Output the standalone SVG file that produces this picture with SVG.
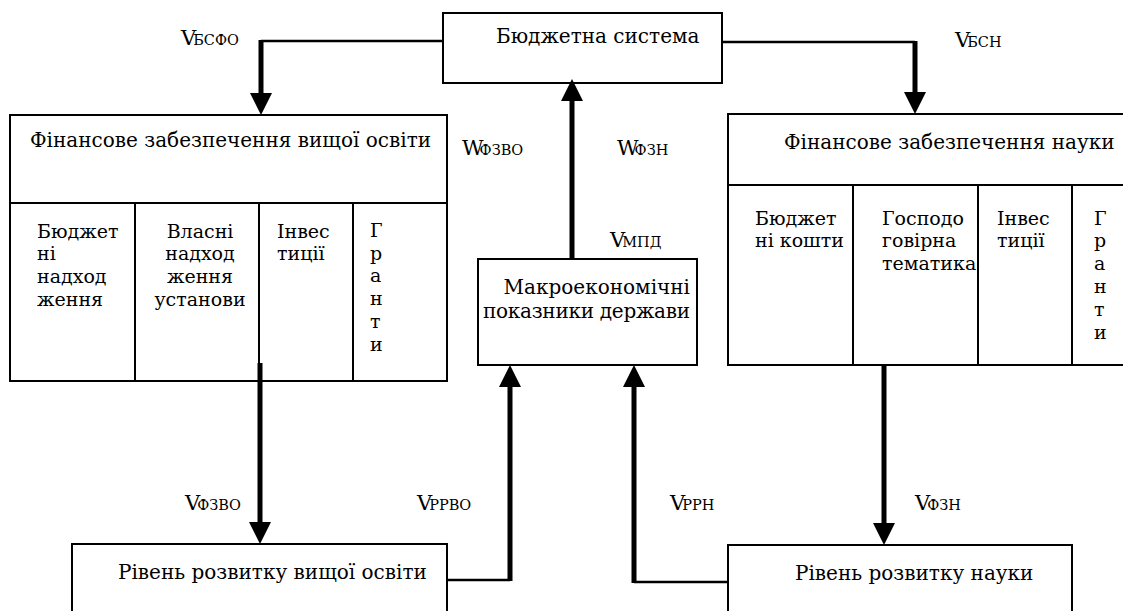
<svg xmlns="http://www.w3.org/2000/svg" width="1123" height="611" viewBox="0 0 1123 611" font-family="'DejaVu Serif', 'Liberation Serif', serif">
<style>
  text { font-family: "DejaVu Serif", "Liberation Serif", serif; fill: #000; }
  .t { font-size: 20px; }
  .c { font-size: 19px; }
  .v { font-size: 21px; }
  .s { font-size: 14.5px; }
  .box { fill: #fff; stroke: #000; stroke-width: 2; }
  .div { fill: none; stroke: #000; stroke-width: 2; }
  .thin { fill: none; stroke: #000; stroke-width: 2.5; }
  .thick { fill: none; stroke: #000; stroke-width: 5; marker-end: url(#ah); }
</style>
<defs>
  <marker id="ah" markerUnits="userSpaceOnUse" markerWidth="22" markerHeight="22" refX="0" refY="11" orient="auto" viewBox="0 0 22 22">
    <path d="M0,0 L22,11 L0,22 z" fill="#000"/>
  </marker>
</defs>
<rect width="1123" height="611" fill="#fff"/>

<g id="budget-system">
  <rect class="box" x="443" y="13" width="279" height="70"/>
  <text class="t" x="496" y="43">Бюджетна система</text>
</g>

<g id="fin-higher-ed">
  <rect class="box" x="10" y="115" width="437" height="266"/>
  <line class="div" x1="10" y1="203" x2="447" y2="203"/>
  <line class="div" x1="135" y1="203" x2="135" y2="381"/>
  <line class="div" x1="259" y1="203" x2="259" y2="381"/>
  <line class="div" x1="353" y1="203" x2="353" y2="381"/>
  <text class="t" x="30" y="147">Фінансове забезпечення вищої освіти</text>
  <text class="c" x="37" y="238">Бюджет</text>
  <text class="c" x="37" y="260">ні</text>
  <text class="c" x="37" y="283">надход</text>
  <text class="c" x="37" y="306">ження</text>
  <text class="c" x="200" y="238" text-anchor="middle">Власні</text>
  <text class="c" x="200" y="260" text-anchor="middle">надход</text>
  <text class="c" x="200" y="283" text-anchor="middle">ження</text>
  <text class="c" x="200" y="306" text-anchor="middle">установи</text>
  <text class="c" x="277" y="238">Інвес</text>
  <text class="c" x="277" y="260">тиції</text>
  <text class="c" x="370" y="237">Г</text>
  <text class="c" x="370" y="260">р</text>
  <text class="c" x="370" y="282">а</text>
  <text class="c" x="370" y="305">н</text>
  <text class="c" x="370" y="328">т</text>
  <text class="c" x="370" y="351">и</text>
</g>

<g id="fin-science">
  <rect class="box" x="728" y="114" width="410" height="251"/>
  <line class="div" x1="728" y1="185" x2="1138" y2="185"/>
  <line class="div" x1="853" y1="185" x2="853" y2="365"/>
  <line class="div" x1="978" y1="185" x2="978" y2="365"/>
  <line class="div" x1="1072" y1="185" x2="1072" y2="365"/>
  <text class="t" x="784" y="149">Фінансове забезпечення науки</text>
  <text class="c" x="755" y="225">Бюджет</text>
  <text class="c" x="755" y="247">ні кошти</text>
  <text class="c" x="882" y="225">Господо</text>
  <text class="c" x="882" y="247">говірна</text>
  <text class="c" x="882" y="270">тематика</text>
  <text class="c" x="997" y="225">Інвес</text>
  <text class="c" x="997" y="247">тиції</text>
  <text class="c" x="1094" y="225">Г</text>
  <text class="c" x="1094" y="247">р</text>
  <text class="c" x="1094" y="270">а</text>
  <text class="c" x="1094" y="293">н</text>
  <text class="c" x="1094" y="316">т</text>
  <text class="c" x="1094" y="339">и</text>
</g>

<g id="macro">
  <rect class="box" x="478" y="259" width="219" height="106"/>
  <text class="t" x="690" y="294" text-anchor="end">Макроекономічні</text>
  <text class="t" x="690" y="318" text-anchor="end" textLength="207" lengthAdjust="spacing">показники держави</text>
</g>

<g id="level-higher-ed">
  <rect class="box" x="72" y="544" width="375" height="80"/>
  <text class="t" x="118" y="579">Рівень розвитку вищої освіти</text>
</g>

<g id="level-science">
  <rect class="box" x="728" y="545" width="344" height="80"/>
  <text class="t" x="795" y="580">Рівень розвитку науки</text>
</g>

<g id="connectors">
  <polyline class="thin" points="443,41 261,41"/>
  <line class="thick" x1="261" y1="40" x2="261" y2="93"/>
  <polyline class="thin" points="722,42 915,42"/>
  <line class="thick" x1="915" y1="41" x2="915" y2="92"/>
  <line class="thick" x1="572" y1="259" x2="572" y2="101"/>
  <line class="thick" x1="260" y1="363" x2="260" y2="522"/>
  <line class="thick" x1="884" y1="365" x2="884" y2="523"/>
  <polyline class="thin" points="447,580 510,580"/>
  <line class="thick" x1="510" y1="581" x2="510" y2="387"/>
  <polyline class="thin" points="728,582 634,582"/>
  <line class="thick" x1="634" y1="583" x2="634" y2="387"/>
</g>

<g id="labels">
  <text x="181" y="45"><tspan class="v">V</tspan><tspan class="s" dx="-3">БСФО</tspan></text>
  <text x="955" y="47"><tspan class="v">V</tspan><tspan class="s" dx="-3">БСН</tspan></text>
  <text x="462" y="155"><tspan class="v">W</tspan><tspan class="s" dx="-4">ФЗВО</tspan></text>
  <text x="617" y="155"><tspan class="v">W</tspan><tspan class="s" dx="-4">ФЗН</tspan></text>
  <text x="610" y="247"><tspan class="v">V</tspan><tspan class="s" dx="-3">МПД</tspan></text>
  <text x="185" y="510"><tspan class="v">V</tspan><tspan class="s" dx="-3">ФЗВО</tspan></text>
  <text x="417" y="510"><tspan class="v">V</tspan><tspan class="s" dx="-3">РРВО</tspan></text>
  <text x="670" y="510"><tspan class="v">V</tspan><tspan class="s" dx="-3">РРН</tspan></text>
  <text x="915" y="510"><tspan class="v">V</tspan><tspan class="s" dx="-3">ФЗН</tspan></text>
</g>
</svg>
